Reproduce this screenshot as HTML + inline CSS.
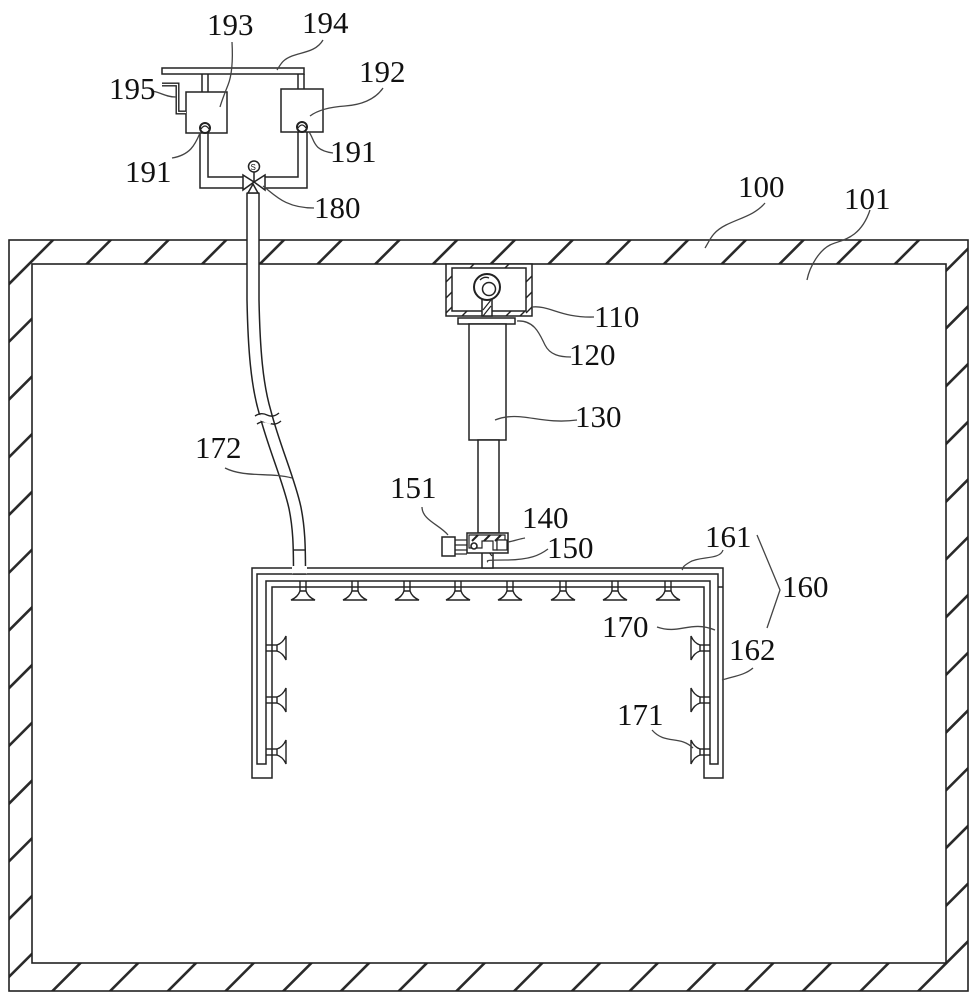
<!DOCTYPE html>
<html>
<head>
<meta charset="utf-8">
<style>
html,body{margin:0;padding:0;background:#fff;}
svg{display:block;}
text{font-family:"Liberation Serif","DejaVu Serif",serif;font-size:31px;fill:#111;}
</style>
</head>
<body>
<svg width="977" height="1000" viewBox="0 0 977 1000" xmlns="http://www.w3.org/2000/svg">
<defs>
<clipPath id="wc"><path clip-rule="evenodd" d="M9,240 H968 V991 H9 Z M32,264 V963 H946 V264 Z"/></clipPath>
</defs>
<rect width="977" height="1000" fill="#fff"/>

<!-- wall hatching -->
<g clip-path="url(#wc)" stroke="#2a2a2a" stroke-width="2.6">
<line x1="58" y1="235" x2="-702" y2="995"/>
<line x1="115.7" y1="235" x2="-644.3" y2="995"/>
<line x1="173.5" y1="235" x2="-586.5" y2="995"/>
<line x1="231.2" y1="235" x2="-528.8" y2="995"/>
<line x1="288.9" y1="235" x2="-471.1" y2="995"/>
<line x1="346.7" y1="235" x2="-413.3" y2="995"/>
<line x1="404.4" y1="235" x2="-355.6" y2="995"/>
<line x1="462.1" y1="235" x2="-297.9" y2="995"/>
<line x1="519.8" y1="235" x2="-240.2" y2="995"/>
<line x1="577.6" y1="235" x2="-182.4" y2="995"/>
<line x1="635.3" y1="235" x2="-124.7" y2="995"/>
<line x1="693" y1="235" x2="-67" y2="995"/>
<line x1="750.8" y1="235" x2="-9.2" y2="995"/>
<line x1="808.5" y1="235" x2="48.5" y2="995"/>
<line x1="866.2" y1="235" x2="106.2" y2="995"/>
<line x1="924" y1="235" x2="164" y2="995"/>
<line x1="981.7" y1="235" x2="221.7" y2="995"/>
<line x1="1039.4" y1="235" x2="279.4" y2="995"/>
<line x1="1097.1" y1="235" x2="337.1" y2="995"/>
<line x1="1154.9" y1="235" x2="394.9" y2="995"/>
<line x1="1212.6" y1="235" x2="452.6" y2="995"/>
<line x1="1270.3" y1="235" x2="510.3" y2="995"/>
<line x1="1328.1" y1="235" x2="568.1" y2="995"/>
<line x1="1385.8" y1="235" x2="625.8" y2="995"/>
<line x1="1443.5" y1="235" x2="683.5" y2="995"/>
<line x1="1501.3" y1="235" x2="741.3" y2="995"/>
<line x1="1559" y1="235" x2="799" y2="995"/>
<line x1="1616.7" y1="235" x2="856.7" y2="995"/>
<line x1="1674.4" y1="235" x2="914.4" y2="995"/>
</g>
<!-- wall outlines -->
<g fill="none" stroke="#222" stroke-width="1.6">
<rect x="9" y="240" width="959" height="751"/>
<rect x="32" y="264" width="914" height="699"/>
</g>

<!-- frame 160 / pipe 170 -->
<g fill="none" stroke="#222" stroke-width="1.5">
<path d="M252,568 H723 V778 H704 V587 H272 V778 H252 Z"/>
<path d="M257,574 H718 V764 H710 V581 H266 V764 H257 Z"/>
<line x1="718" y1="587" x2="723" y2="587"/>
</g>

<!-- top nozzles -->
<g fill="#fff" stroke="#222" stroke-width="1.4">
<g><line x1="300" y1="581" x2="300" y2="591"/><line x1="306" y1="581" x2="306" y2="591"/><path d="M300,591 L306,591 Q308,597 315,600 L291,600 Q298,597 300,591 Z"/></g>
<g transform="translate(52,0)"><line x1="300" y1="581" x2="300" y2="591"/><line x1="306" y1="581" x2="306" y2="591"/><path d="M300,591 L306,591 Q308,597 315,600 L291,600 Q298,597 300,591 Z"/></g>
<g transform="translate(104,0)"><line x1="300" y1="581" x2="300" y2="591"/><line x1="306" y1="581" x2="306" y2="591"/><path d="M300,591 L306,591 Q308,597 315,600 L291,600 Q298,597 300,591 Z"/></g>
<g transform="translate(155,0)"><line x1="300" y1="581" x2="300" y2="591"/><line x1="306" y1="581" x2="306" y2="591"/><path d="M300,591 L306,591 Q308,597 315,600 L291,600 Q298,597 300,591 Z"/></g>
<g transform="translate(207,0)"><line x1="300" y1="581" x2="300" y2="591"/><line x1="306" y1="581" x2="306" y2="591"/><path d="M300,591 L306,591 Q308,597 315,600 L291,600 Q298,597 300,591 Z"/></g>
<g transform="translate(260,0)"><line x1="300" y1="581" x2="300" y2="591"/><line x1="306" y1="581" x2="306" y2="591"/><path d="M300,591 L306,591 Q308,597 315,600 L291,600 Q298,597 300,591 Z"/></g>
<g transform="translate(312,0)"><line x1="300" y1="581" x2="300" y2="591"/><line x1="306" y1="581" x2="306" y2="591"/><path d="M300,591 L306,591 Q308,597 315,600 L291,600 Q298,597 300,591 Z"/></g>
<g transform="translate(365,0)"><line x1="300" y1="581" x2="300" y2="591"/><line x1="306" y1="581" x2="306" y2="591"/><path d="M300,591 L306,591 Q308,597 315,600 L291,600 Q298,597 300,591 Z"/></g>
</g>

<!-- side nozzles -->
<g fill="#fff" stroke="#222" stroke-width="1.4">
<g><line x1="266" y1="645" x2="277" y2="645"/><line x1="266" y1="651" x2="277" y2="651"/><path d="M277,645 L277,651 Q283,653 286,660 L286,636 Q283,643 277,645 Z"/></g>
<g transform="translate(0,52)"><line x1="266" y1="645" x2="277" y2="645"/><line x1="266" y1="651" x2="277" y2="651"/><path d="M277,645 L277,651 Q283,653 286,660 L286,636 Q283,643 277,645 Z"/></g>
<g transform="translate(0,104)"><line x1="266" y1="645" x2="277" y2="645"/><line x1="266" y1="651" x2="277" y2="651"/><path d="M277,645 L277,651 Q283,653 286,660 L286,636 Q283,643 277,645 Z"/></g>
<g><line x1="700" y1="645" x2="710" y2="645"/><line x1="700" y1="651" x2="710" y2="651"/><path d="M700,645 L700,651 Q694,653 691,660 L691,636 Q694,643 700,645 Z"/></g>
<g transform="translate(0,52)"><line x1="700" y1="645" x2="710" y2="645"/><line x1="700" y1="651" x2="710" y2="651"/><path d="M700,645 L700,651 Q694,653 691,660 L691,636 Q694,643 700,645 Z"/></g>
<g transform="translate(0,104)"><line x1="700" y1="645" x2="710" y2="645"/><line x1="700" y1="651" x2="710" y2="651"/><path d="M700,645 L700,651 Q694,653 691,660 L691,636 Q694,643 700,645 Z"/></g>
</g>

<!-- hose 172 -->
<path d="M253,193 L253,300 C254,350 257,385 265,412 C274,447 289,480 295,508 C299,528 299.5,545 299.5,574" fill="none" stroke="#222" stroke-width="13.5"/>
<path d="M253,193 L253,300 C254,350 257,385 265,412 C274,447 289,480 295,508 C299,528 299.5,545 299.5,574" fill="none" stroke="#fff" stroke-width="10.5"/>
<rect x="292" y="566" width="15" height="7.5" fill="#fff"/>
<line x1="293" y1="550" x2="306" y2="550" stroke="#222" stroke-width="1.4"/>
<line x1="293" y1="574" x2="306" y2="574" stroke="#222" stroke-width="1.4"/>
<line x1="246.5" y1="193" x2="259.5" y2="193" stroke="#222" stroke-width="1.4"/>
<path d="M255,416 q6,-4 12,-1 t12,-2" fill="none" stroke="#222" stroke-width="1.4"/>
<path d="M257,424 q6,-4 12,-1 t12,-2" fill="none" stroke="#222" stroke-width="1.4"/>
<rect x="258" y="417" width="14" height="5" fill="#fff" transform="rotate(20 265 419)"/>

<!-- tanks assembly -->
<g fill="none" stroke="#222" stroke-width="1.5">
<rect x="162" y="68" width="142" height="6" fill="#fff"/>
<line x1="202" y1="74" x2="202" y2="92"/><line x1="208" y1="74" x2="208" y2="92"/>
<line x1="298" y1="74" x2="298" y2="89"/><line x1="304" y1="74" x2="304" y2="89"/>
<rect x="186" y="92" width="41" height="41"/>
<rect x="281" y="89" width="42" height="43"/>
<path d="M200,133 V188 H243"/>
<path d="M208,133 V177 H243"/>
<path d="M307,132 V188 H265"/>
<path d="M298,132 V177 H265"/>
<path d="M243,175 L243,190 L254,182 Z" fill="#fff"/>
<path d="M265,175 L265,190 L254,182 Z" fill="#fff"/>
<path d="M248,193 L258,193 L253,184 Z" fill="#fff"/>
<line x1="254" y1="172" x2="254" y2="182"/>
<circle cx="254" cy="166.5" r="5.5" fill="#fff"/>
<circle cx="205" cy="128" r="5" fill="#fff" stroke-width="2"/>
<circle cx="302" cy="127" r="5" fill="#fff" stroke-width="2"/>
<path d="M201,129 q4,-6 8,0" stroke-width="1.2"/>
<path d="M298,128 q4,-6 8,0" stroke-width="1.2"/>
</g>
<text x="250.5" y="170" style="font-size:8px;font-family:'Liberation Sans',sans-serif">S</text>
<path d="M162,84.5 H177.5 V112.5 H186" fill="none" stroke="#222" stroke-width="4"/>
<path d="M162,84.5 H177.5 V112.5 H186" fill="none" stroke="#fff" stroke-width="1.2"/>

<!-- box 110 and actuator -->
<g stroke="#222" stroke-width="1.5">
<rect x="446" y="264" width="86" height="52" fill="#fff"/>
<rect x="452" y="268" width="74" height="43" fill="#fff"/>
<g stroke-width="1.4">
<line x1="446" y1="282" x2="452" y2="276"/><line x1="446" y1="298" x2="452" y2="292"/><line x1="446" y1="313" x2="452" y2="307"/>
<line x1="526" y1="282" x2="532" y2="276"/><line x1="526" y1="298" x2="532" y2="292"/><line x1="526" y1="313" x2="532" y2="307"/>
<line x1="462" y1="316" x2="467" y2="311"/><line x1="506" y1="316" x2="511" y2="311"/><line x1="520" y1="316" x2="525" y2="311"/>
<line x1="470" y1="268" x2="474" y2="264"/><line x1="505" y1="268" x2="509" y2="264"/>
</g>
<rect x="482" y="298" width="10" height="18" fill="#fff"/>
<line x1="483" y1="310" x2="491" y2="300" stroke-width="1.2"/>
<line x1="483" y1="316" x2="491" y2="306" stroke-width="1.2"/>
<circle cx="487" cy="287" r="13" fill="#fff" stroke-width="2"/>
<circle cx="489" cy="289" r="6.5" fill="#fff" stroke-width="1.5"/>
<path d="M480,280 q4,-4 9,-2" fill="none" stroke-width="1.3"/>
<rect x="458" y="318" width="57" height="6" fill="#fff"/>
<rect x="469" y="324" width="37" height="116" fill="#fff"/>
<rect x="478" y="440" width="21" height="93" fill="#fff"/>
<rect x="482" y="541" width="11" height="27" fill="#fff"/>
<line x1="483" y1="545" x2="492" y2="556" stroke-width="1.2"/>
<rect x="467" y="533" width="41" height="20" fill="#fff"/>
<path d="M469,535 H505 V540 H497 V550 H493 V541 H482 V548 H469 Z" fill="#fff" stroke-width="1.2"/>
<line x1="472" y1="541" x2="478" y2="535" stroke-width="2"/>
<line x1="484" y1="541" x2="490" y2="535" stroke-width="2"/>
<line x1="495" y1="541" x2="501" y2="535" stroke-width="2"/>
<rect x="497" y="540" width="10" height="10" fill="#fff" stroke-width="1.2"/>
<circle cx="474" cy="546" r="3" fill="#fff" stroke-width="1.6"/>
<rect x="442" y="537" width="13" height="19" fill="#fff"/>
<line x1="455" y1="540" x2="467" y2="540" stroke-width="1.2"/>
<line x1="455" y1="545" x2="467" y2="545" stroke-width="1.2"/>
<line x1="455" y1="550" x2="467" y2="550" stroke-width="1.2"/>
<line x1="455" y1="554" x2="467" y2="554" stroke-width="1.2"/>
</g>

<!-- leaders -->
<g fill="none" stroke="#444" stroke-width="1.3">
<path d="M232,42 C233,60 232,75 228,85 S222,100 220,107"/>
<path d="M323,40 C316,52 302,52 292,56 S281,64 277,70"/>
<path d="M152,91 C160,92 165,97 176,97"/>
<path d="M383,88 C375,100 360,105 345,106 S318,110 310,116"/>
<path d="M200,133 C195,145 190,155 172,158"/>
<path d="M309,132 C315,140 312,150 333,153"/>
<path d="M263,186 C275,195 285,208 314,208"/>
<path d="M765,203 C755,215 740,218 726,225 S710,240 705,248"/>
<path d="M870,210 C860,240 840,240 830,245 S810,265 807,280"/>
<path d="M532,307 C550,305 560,318 594,317"/>
<path d="M517,321 C535,320 540,335 545,345 S560,357 571,357"/>
<path d="M495,420 C520,410 540,425 577,420"/>
<path d="M422,507 C422,520 440,525 448,535"/>
<path d="M508,542 C514,541 519,539 525,538"/>
<path d="M548,549 C540,555 530,560 505,560 S490,561 487,562"/>
<path d="M723,550 C720,560 700,556 690,562 S684,568 682,570"/>
<path d="M757,535 L780,590 L767,628"/>
<path d="M657,627 C680,635 690,620 715,630"/>
<path d="M753,668 C745,675 735,676 722,680"/>
<path d="M652,730 C665,745 680,735 693,748"/>
<path d="M225,468 C245,478 270,472 292,478"/>
</g>

<!-- labels -->
<text x="207" y="35">193</text>
<text x="302" y="33">194</text>
<text x="109" y="99">195</text>
<text x="359" y="82">192</text>
<text x="125" y="182">191</text>
<text x="330" y="162">191</text>
<text x="314" y="218">180</text>
<text x="738" y="197">100</text>
<text x="844" y="209">101</text>
<text x="594" y="327">110</text>
<text x="569" y="365">120</text>
<text x="575" y="427">130</text>
<text x="390" y="498">151</text>
<text x="522" y="528">140</text>
<text x="547" y="558">150</text>
<text x="705" y="547">161</text>
<text x="782" y="597">160</text>
<text x="602" y="637">170</text>
<text x="729" y="660">162</text>
<text x="617" y="725">171</text>
<text x="195" y="458">172</text>
</svg>
</body>
</html>
